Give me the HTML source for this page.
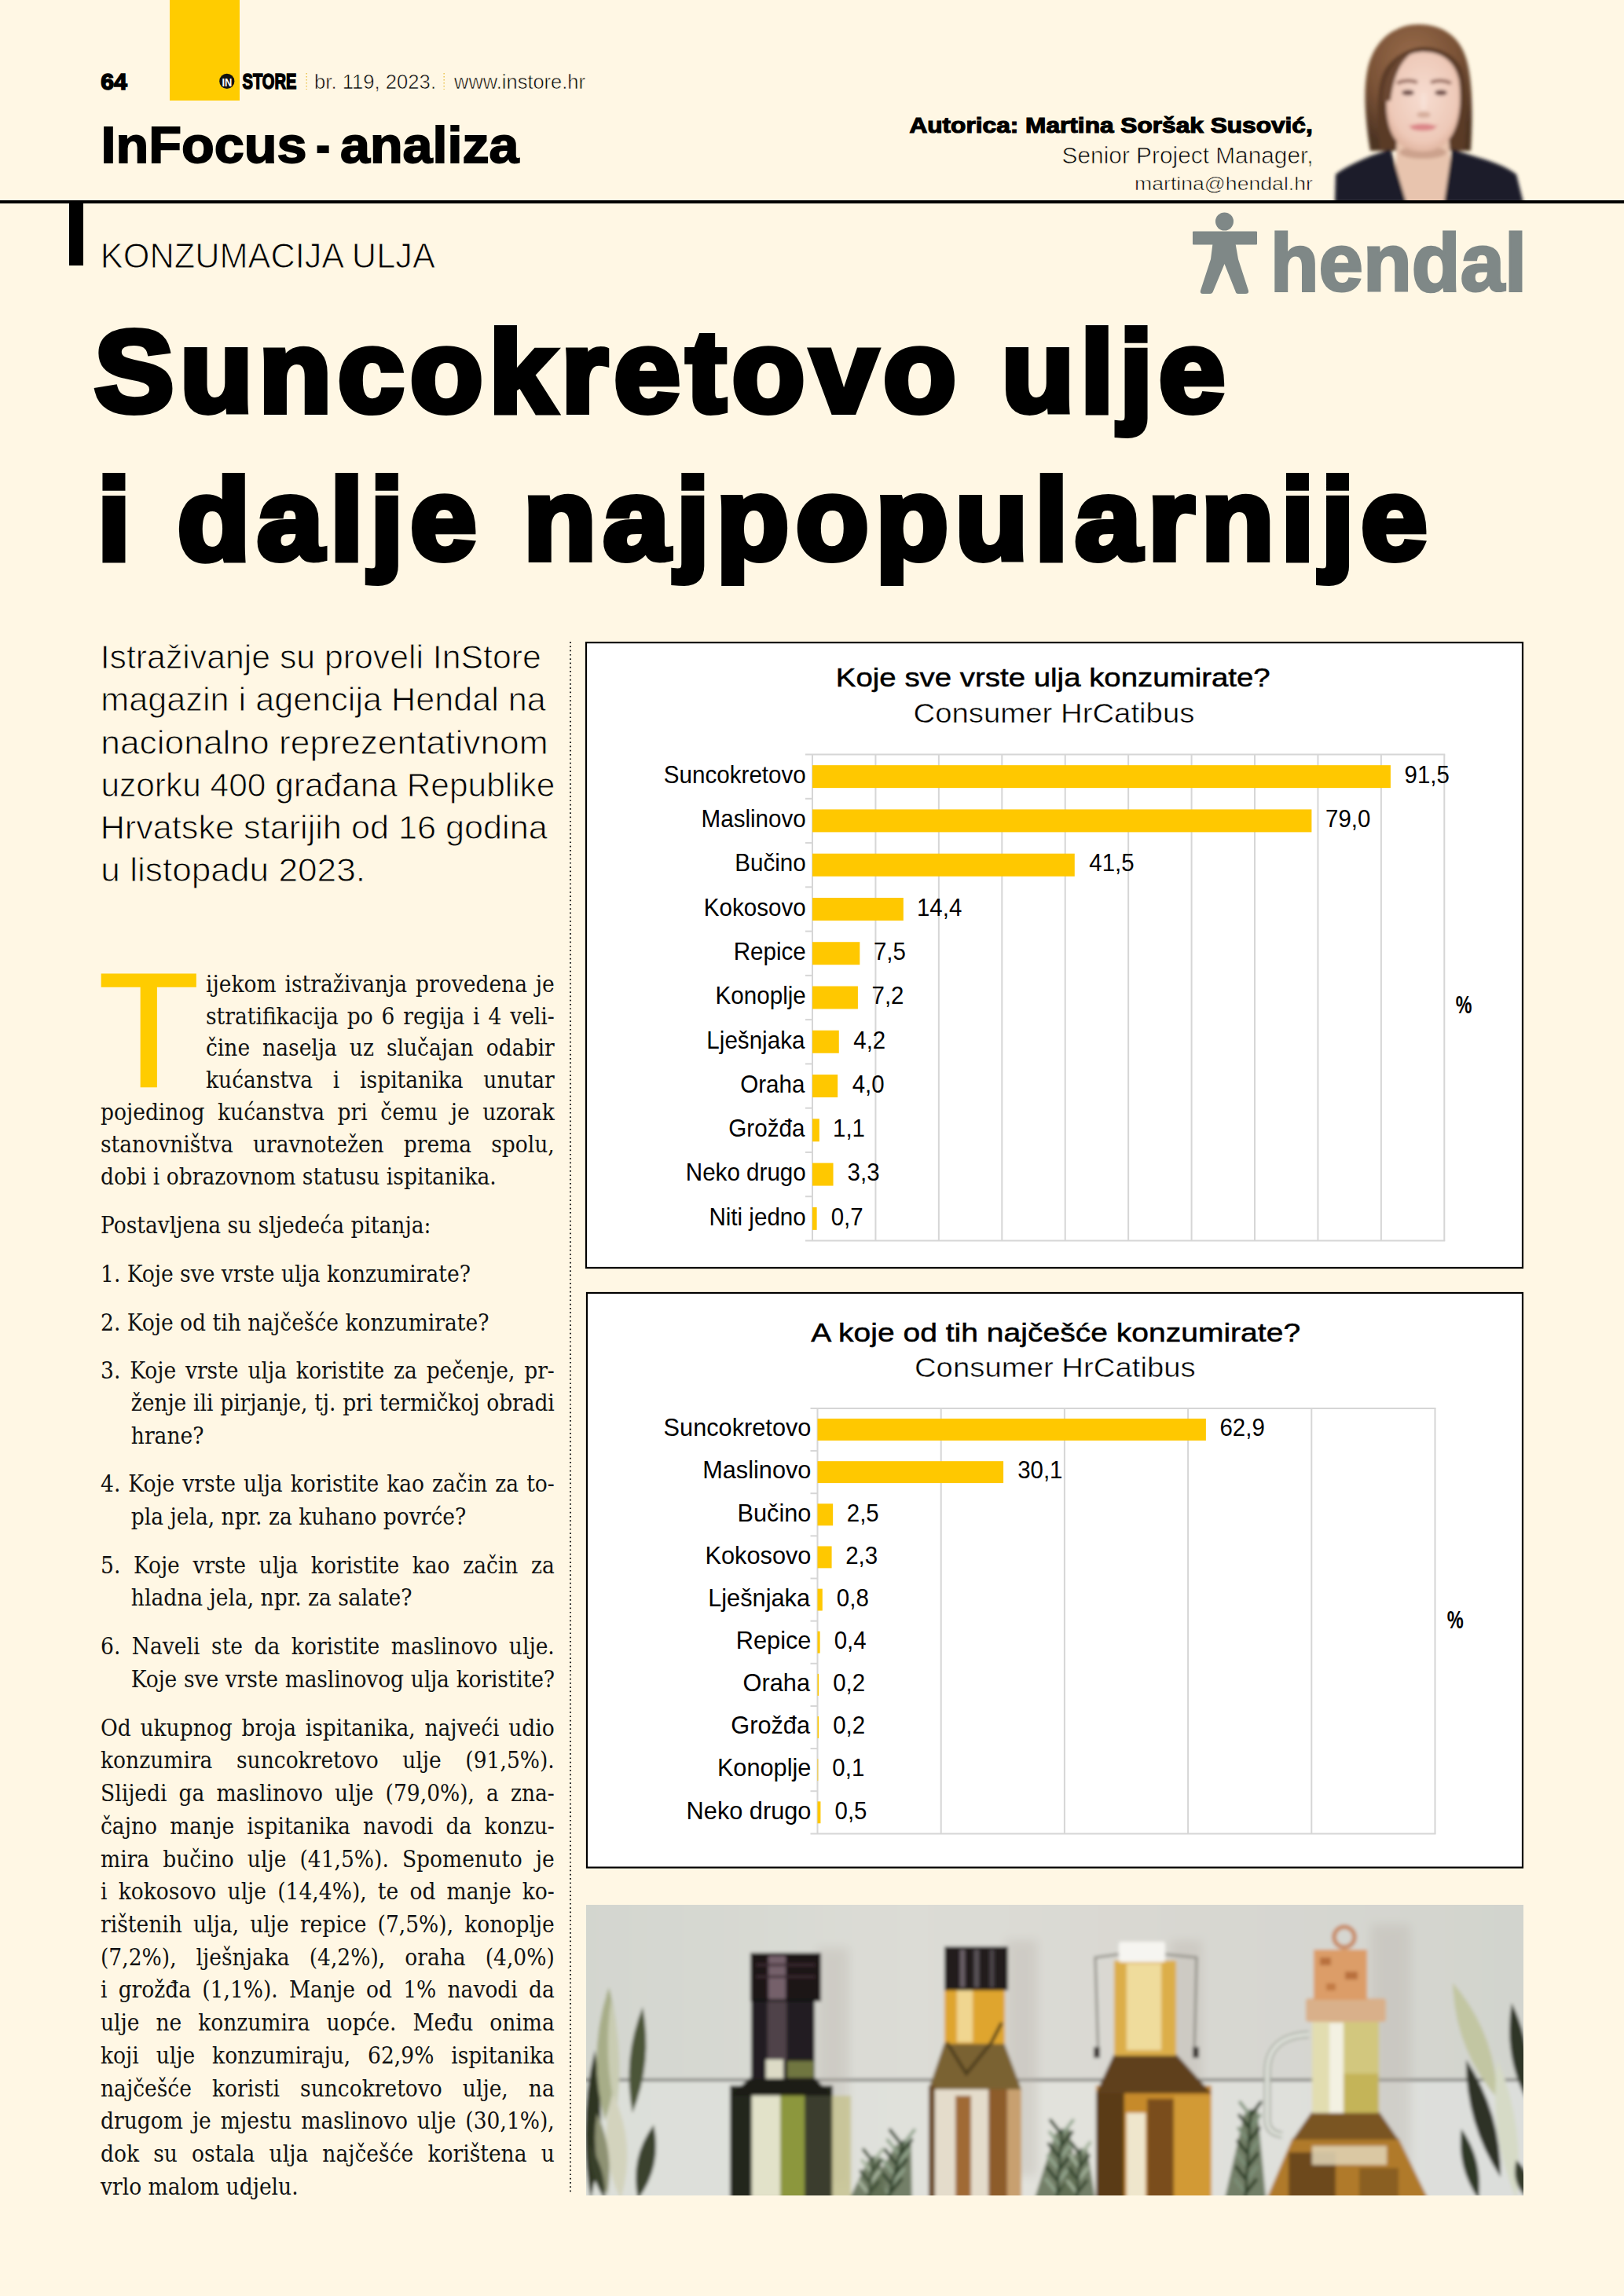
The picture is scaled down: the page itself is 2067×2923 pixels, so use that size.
<!DOCTYPE html>
<html lang="hr"><head><meta charset="utf-8"><title>Suncokretovo ulje i dalje najpopularnije</title>
<style>
html,body{margin:0;padding:0;background:#fff7e4;}
body{width:2067px;height:2923px;position:relative;overflow:hidden;}
#pg{position:absolute;left:0;top:0;}
.bl{position:absolute;height:40px;font-family:"DejaVu Serif Condensed", "DejaVu Serif", serif;font-stretch:condensed;font-size:29.5px;line-height:40px;color:#111;white-space:nowrap;}
.bl.j{text-align:justify;text-align-last:justify;}
</style></head>
<body>
<svg id="pg" width="2067" height="2923" viewBox="0 0 2067 2923">
<defs><filter id="ptb" x="-10%" y="-10%" width="120%" height="120%"><feGaussianBlur stdDeviation="2.2"/></filter><clipPath id="ptc"><rect x="1690" y="0" width="260" height="255"/></clipPath><radialGradient id="hairg" cx="0.45" cy="0.3" r="0.7"><stop offset="0" stop-color="#9b6e4d"/><stop offset="0.6" stop-color="#7a5236"/><stop offset="1" stop-color="#4e3424"/></radialGradient><radialGradient id="faceg" cx="0.5" cy="0.45" r="0.6"><stop offset="0" stop-color="#f6dcd0"/><stop offset="0.75" stop-color="#eec9b8"/><stop offset="1" stop-color="#dcae98"/></radialGradient></defs>
<g clip-path="url(#ptc)"><g filter="url(#ptb)">
<path d="M1744 192 C1737 150 1735 112 1741 86 C1751 46 1779 31 1806 31 C1835 31 1862 46 1869 86 C1875 116 1874 160 1872 192 Z" fill="url(#hairg)"/>
<path d="M1756 190 C1752 140 1752 100 1766 84 C1780 66 1800 60 1812 60 C1830 60 1850 68 1860 86 C1868 104 1868 150 1864 190 Z" fill="#5a3a26"/>
<path d="M1778 176 L1844 176 L1850 258 L1774 258 Z" fill="#e8c4ae"/>
<ellipse cx="1811" cy="194" rx="30" ry="8" fill="#c49a84" opacity="0.8"/>
<path d="M1699 258 L1700 222 Q1712 212 1746 198 L1770 190 L1790 258 Z" fill="#1b1d29"/>
<path d="M1939 258 L1930 222 Q1915 210 1880 200 L1848 190 L1838 258 Z" fill="#1b1d29"/>
<path d="M1767 102 C1769 80 1790 66 1812 66 C1835 66 1852 78 1857 102 C1861 132 1857 166 1841 181 C1831 190 1821 193 1811 193 C1800 193 1789 190 1779 181 C1764 166 1762 132 1767 102 Z" fill="url(#faceg)"/>
<path d="M1760 130 C1760 100 1770 78 1796 68 C1782 80 1774 96 1770 128 Z" fill="#6a4630"/>
<path d="M1778 106 Q1791 100 1804 105" stroke="#9a7064" stroke-width="4.5" fill="none"/>
<path d="M1821 105 Q1834 100 1847 106" stroke="#9a7064" stroke-width="4.5" fill="none"/>
<ellipse cx="1792" cy="118" rx="8" ry="3.5" fill="#6e4c46"/>
<ellipse cx="1834" cy="118" rx="8" ry="3.5" fill="#6e4c46"/>
<ellipse cx="1812" cy="146" rx="9" ry="4" fill="#c99c8a" opacity="0.7"/>
<ellipse cx="1812" cy="130" rx="4" ry="12" fill="#f8e4da" opacity="0.6"/>
<path d="M1792 159 Q1811 172 1831 159 Q1811 164 1792 159 Z" fill="#cf7478"/>
<ellipse cx="1811" cy="162" rx="16" ry="4.5" fill="#dc8588"/>
</g></g>
<g fill="#7f8887">
<circle cx="1558.5" cy="282" r="11.5"/>
<rect x="1518" y="294.5" width="82" height="17" rx="1"/>
<path d="M1543.5 310 L1572.5 310 L1576 330 L1589 370 Q1590 374 1585 374 L1576 374 Q1573 374 1572.5 371 L1558.5 336 L1544 371 Q1543 374 1540 374 L1531 374 Q1527 374 1528 370 L1541 330 Z"/>
</g>
<defs><clipPath id="phc"><rect x="746" y="2425" width="1193" height="370"/></clipPath><filter id="phb" x="-2%" y="-2%" width="104%" height="104%"><feGaussianBlur stdDeviation="2.0"/></filter><filter id="phb2" x="-20%" y="-20%" width="140%" height="140%"><feGaussianBlur stdDeviation="6"/></filter><linearGradient id="wallg" x1="0" y1="0" x2="1" y2="0"><stop offset="0" stop-color="#d3d6cf"/><stop offset="0.35" stop-color="#dcdcd6"/><stop offset="0.6" stop-color="#d9d8d2"/><stop offset="1" stop-color="#d2d4ce"/></linearGradient><linearGradient id="wall2" x1="0" y1="0" x2="1" y2="0"><stop offset="0" stop-color="#dcdfd9"/><stop offset="0.5" stop-color="#e2e2dc"/><stop offset="1" stop-color="#dcdedb"/></linearGradient></defs>
<g clip-path="url(#phc)"><g filter="url(#phb)">
<rect x="740" y="2420" width="1205" height="232" fill="url(#wallg)"/>
<rect x="740" y="2649" width="1205" height="150" fill="url(#wall2)"/>
<rect x="740" y="2646.5" width="1205" height="3" fill="#6b6b66"/>
<rect x="1040" y="2480" width="40" height="300" fill="#b9b2aa" opacity="0.35" filter="url(#phb2)"/>
<rect x="1280" y="2470" width="40" height="300" fill="#b9b2aa" opacity="0.35" filter="url(#phb2)"/>
<rect x="1490" y="2470" width="40" height="300" fill="#b9b2aa" opacity="0.35" filter="url(#phb2)"/>
<rect x="1745" y="2450" width="50" height="320" fill="#b9b2aa" opacity="0.35" filter="url(#phb2)"/>
<path d="M752.0 2800.0Q774.5 2705.5 757.0 2610.0Q734.5 2704.5 752.0 2800.0Z" fill="#2f3624" opacity="1.0"/>
<path d="M770.0 2700.0Q798.5 2615.8 775.0 2530.0Q746.5 2614.2 770.0 2700.0Z" fill="#a7ad88" opacity="1.0"/>
<path d="M784.0 2690.0Q795.0 2616.9 778.0 2545.0Q767.0 2618.1 784.0 2690.0Z" fill="#c9ccb2" opacity="1.0"/>
<path d="M805.0 2690.0Q831.4 2624.4 818.0 2555.0Q791.6 2620.6 805.0 2690.0Z" fill="#4c5538" opacity="1.0"/>
<path d="M790.0 2800.0Q810.9 2730.6 780.0 2665.0Q759.1 2734.4 790.0 2800.0Z" fill="#d3d3bd" opacity="1.0"/>
<path d="M773.0 2795.0Q782.4 2740.5 760.0 2690.0Q750.6 2744.5 773.0 2795.0Z" fill="#8e9273" opacity="1.0"/>
<path d="M812.0 2800.0Q843.5 2757.0 832.0 2705.0Q800.5 2748.0 812.0 2800.0Z" fill="#3b432e" opacity="1.0"/>
<path d="M750.0 2730.0Q748.5 2768.3 770.0 2800.0Q771.5 2761.7 750.0 2730.0Z" fill="#39412c" opacity="1.0"/>
<rect x="929" y="2655" width="131" height="145" fill="#22261a"/>
<path d="M955 2645 L1037 2645 L1059 2668 L929 2668 Z" fill="#1c1d17"/>
<rect x="957" y="2668" width="36" height="130" fill="#e2e2c9"/>
<rect x="993" y="2668" width="31" height="130" fill="#8c973c"/>
<rect x="1024" y="2668" width="34" height="130" fill="#3a3d2f"/>
<rect x="1059" y="2668" width="24" height="130" fill="#c5c28d" opacity="0.8"/>
<rect x="956" y="2545" width="81" height="102" fill="#221c24"/>
<rect x="977" y="2548" width="24" height="75" fill="#4f4248"/>
<rect x="975" y="2622" width="22" height="24" fill="#dddbc6"/>
<rect x="1002" y="2624" width="34" height="21" fill="#6f7640"/>
<rect x="955" y="2486" width="90" height="62" fill="#1f1719"/>
<rect x="978" y="2490" width="22" height="56" fill="#75616a"/><rect x="962" y="2500" width="76" height="3" fill="#3a2c30"/><rect x="962" y="2515" width="76" height="3" fill="#3a2c30"/>
<rect x="955" y="2545" width="82" height="3" fill="#100c0c"/>
<path d="M1099.2 2800 L1140.2 2731 L1159.8 2725 L1160.8 2800 Z" fill="#5f6d52" opacity="0.85"/>
<line x1="1131.7" y1="2793.8" x2="1116.3" y2="2774.2" stroke="#8fa28a" stroke-width="4" stroke-linecap="round"/>
<line x1="1131.7" y1="2793.8" x2="1147.1" y2="2774.2" stroke="#2f4129" stroke-width="4" stroke-linecap="round"/>
<line x1="1135.0" y1="2781.2" x2="1119.6" y2="2761.7" stroke="#2f4129" stroke-width="4" stroke-linecap="round"/>
<line x1="1135.0" y1="2781.2" x2="1150.4" y2="2761.7" stroke="#8fa28a" stroke-width="4" stroke-linecap="round"/>
<line x1="1138.3" y1="2768.8" x2="1122.9" y2="2749.2" stroke="#8fa28a" stroke-width="4" stroke-linecap="round"/>
<line x1="1138.3" y1="2768.8" x2="1153.7" y2="2749.2" stroke="#2f4129" stroke-width="4" stroke-linecap="round"/>
<line x1="1141.7" y1="2756.2" x2="1126.3" y2="2736.7" stroke="#2f4129" stroke-width="4" stroke-linecap="round"/>
<line x1="1141.7" y1="2756.2" x2="1157.1" y2="2736.7" stroke="#8fa28a" stroke-width="4" stroke-linecap="round"/>
<line x1="1145.0" y1="2743.8" x2="1129.6" y2="2724.2" stroke="#8fa28a" stroke-width="4" stroke-linecap="round"/>
<line x1="1145.0" y1="2743.8" x2="1160.4" y2="2724.2" stroke="#2f4129" stroke-width="4" stroke-linecap="round"/>
<line x1="1148.3" y1="2731.2" x2="1132.9" y2="2711.7" stroke="#2f4129" stroke-width="4" stroke-linecap="round"/>
<line x1="1148.3" y1="2731.2" x2="1163.7" y2="2711.7" stroke="#8fa28a" stroke-width="4" stroke-linecap="round"/>
<line x1="1130" y1="2800" x2="1150" y2="2725" stroke="#2f4129" stroke-width="3"/>
<path d="M1080.8 2800 L1104.3 2751 L1119.7 2745 L1129.2 2800 Z" fill="#5f6d52" opacity="0.85"/>
<line x1="1105.9" y1="2793.1" x2="1093.8" y2="2777.7" stroke="#a7b59f" stroke-width="4" stroke-linecap="round"/>
<line x1="1105.9" y1="2793.1" x2="1118.0" y2="2777.7" stroke="#3d4e35" stroke-width="4" stroke-linecap="round"/>
<line x1="1107.6" y1="2779.4" x2="1095.5" y2="2764.0" stroke="#3d4e35" stroke-width="4" stroke-linecap="round"/>
<line x1="1107.6" y1="2779.4" x2="1119.7" y2="2764.0" stroke="#a7b59f" stroke-width="4" stroke-linecap="round"/>
<line x1="1109.4" y1="2765.6" x2="1097.3" y2="2750.2" stroke="#a7b59f" stroke-width="4" stroke-linecap="round"/>
<line x1="1109.4" y1="2765.6" x2="1121.5" y2="2750.2" stroke="#3d4e35" stroke-width="4" stroke-linecap="round"/>
<line x1="1111.1" y1="2751.9" x2="1099.0" y2="2736.5" stroke="#3d4e35" stroke-width="4" stroke-linecap="round"/>
<line x1="1111.1" y1="2751.9" x2="1123.2" y2="2736.5" stroke="#a7b59f" stroke-width="4" stroke-linecap="round"/>
<line x1="1105" y1="2800" x2="1112" y2="2745" stroke="#3d4e35" stroke-width="3"/>
<rect x="1182" y="2655" width="118" height="145" fill="#e4dccb"/>
<path d="M1203 2598 L1277 2598 L1300 2660 L1182 2660 Z" fill="#7a6230"/>
<rect x="1182" y="2655" width="8" height="145" fill="#6b4a22"/>
<rect x="1216" y="2668" width="20" height="130" fill="#a06a34"/>
<rect x="1258" y="2660" width="24" height="140" fill="#8d5c2c"/>
<rect x="1282" y="2660" width="18" height="140" fill="#c8a070"/>
<rect x="1202" y="2532" width="77" height="70" fill="#dfa52e"/>
<rect x="1218" y="2534" width="20" height="66" fill="#f0d690"/>
<path d="M1205 2600 L1230 2640 L1262 2600 L1275 2575" stroke="#4a3a1e" stroke-width="4" fill="none"/>
<rect x="1202" y="2478" width="81" height="56" fill="#211a1e"/>
<rect x="1222" y="2482" width="6" height="48" fill="#6a6066"/>
<rect x="1240" y="2482" width="6" height="48" fill="#5a5258"/>
<rect x="1260" y="2482" width="5" height="48" fill="#4d464c"/>
<path d="M1316.4 2800 L1342.9 2716 L1361.1 2710 L1373.6 2800 Z" fill="#5f6d52" opacity="0.85"/>
<line x1="1345.6" y1="2792.5" x2="1331.3" y2="2774.3" stroke="#93a68e" stroke-width="4" stroke-linecap="round"/>
<line x1="1345.6" y1="2792.5" x2="1359.9" y2="2774.3" stroke="#2f4129" stroke-width="4" stroke-linecap="round"/>
<line x1="1346.8" y1="2777.5" x2="1332.5" y2="2759.3" stroke="#2f4129" stroke-width="4" stroke-linecap="round"/>
<line x1="1346.8" y1="2777.5" x2="1361.0" y2="2759.3" stroke="#93a68e" stroke-width="4" stroke-linecap="round"/>
<line x1="1347.9" y1="2762.5" x2="1333.6" y2="2744.3" stroke="#93a68e" stroke-width="4" stroke-linecap="round"/>
<line x1="1347.9" y1="2762.5" x2="1362.2" y2="2744.3" stroke="#2f4129" stroke-width="4" stroke-linecap="round"/>
<line x1="1349.1" y1="2747.5" x2="1334.8" y2="2729.3" stroke="#2f4129" stroke-width="4" stroke-linecap="round"/>
<line x1="1349.1" y1="2747.5" x2="1363.4" y2="2729.3" stroke="#93a68e" stroke-width="4" stroke-linecap="round"/>
<line x1="1350.2" y1="2732.5" x2="1336.0" y2="2714.3" stroke="#93a68e" stroke-width="4" stroke-linecap="round"/>
<line x1="1350.2" y1="2732.5" x2="1364.5" y2="2714.3" stroke="#2f4129" stroke-width="4" stroke-linecap="round"/>
<line x1="1351.4" y1="2717.5" x2="1337.1" y2="2699.3" stroke="#2f4129" stroke-width="4" stroke-linecap="round"/>
<line x1="1351.4" y1="2717.5" x2="1365.7" y2="2699.3" stroke="#93a68e" stroke-width="4" stroke-linecap="round"/>
<line x1="1345" y1="2800" x2="1352" y2="2710" stroke="#2f4129" stroke-width="3"/>
<path d="M1345.8 2800 L1368.3 2741 L1383.7 2735 L1394.2 2800 Z" fill="#5f6d52" opacity="0.85"/>
<line x1="1370.8" y1="2791.9" x2="1358.7" y2="2776.5" stroke="#a1b199" stroke-width="4" stroke-linecap="round"/>
<line x1="1370.8" y1="2791.9" x2="1382.8" y2="2776.5" stroke="#34452d" stroke-width="4" stroke-linecap="round"/>
<line x1="1372.2" y1="2775.6" x2="1360.2" y2="2760.2" stroke="#34452d" stroke-width="4" stroke-linecap="round"/>
<line x1="1372.2" y1="2775.6" x2="1384.3" y2="2760.2" stroke="#a1b199" stroke-width="4" stroke-linecap="round"/>
<line x1="1373.8" y1="2759.4" x2="1361.7" y2="2744.0" stroke="#a1b199" stroke-width="4" stroke-linecap="round"/>
<line x1="1373.8" y1="2759.4" x2="1385.8" y2="2744.0" stroke="#34452d" stroke-width="4" stroke-linecap="round"/>
<line x1="1375.2" y1="2743.1" x2="1363.2" y2="2727.7" stroke="#34452d" stroke-width="4" stroke-linecap="round"/>
<line x1="1375.2" y1="2743.1" x2="1387.3" y2="2727.7" stroke="#a1b199" stroke-width="4" stroke-linecap="round"/>
<line x1="1370" y1="2800" x2="1376" y2="2735" stroke="#34452d" stroke-width="3"/>
<rect x="1395" y="2655" width="147" height="145" fill="#c68a2a"/>
<path d="M1418 2615 L1497 2615 L1542 2665 L1395 2665 Z" fill="#5e3f1a"/>
<rect x="1395" y="2665" width="36" height="135" fill="#5a3a18"/>
<rect x="1434" y="2690" width="24" height="110" fill="#efe6cc"/>
<rect x="1460" y="2672" width="34" height="128" fill="#7a4e1e"/>
<rect x="1494" y="2668" width="48" height="132" fill="#d29a34"/>
<rect x="1418" y="2496" width="79" height="121" fill="#dcae48"/>
<rect x="1434" y="2500" width="44" height="110" fill="#efdc9c"/>
<rect x="1424" y="2472" width="59" height="26" rx="3" fill="#f6f5f1"/>
<path d="M1398 2620 L1394 2492 L1424 2488 M1520 2620 L1523 2492 L1483 2488" stroke="#8e8c84" stroke-width="3" fill="none"/>
<rect x="1392" y="2606" width="8" height="14" fill="#3a3530"/>
<rect x="1518" y="2606" width="8" height="14" fill="#3a3530"/>
<path d="M1558.6 2800 L1583.6 2691 L1600.4 2685 L1611.4 2800 Z" fill="#5f6d52" opacity="0.85"/>
<line x1="1585.5" y1="2791.8" x2="1572.3" y2="2775.0" stroke="#7d9078" stroke-width="4" stroke-linecap="round"/>
<line x1="1585.5" y1="2791.8" x2="1598.7" y2="2775.0" stroke="#2a3a24" stroke-width="4" stroke-linecap="round"/>
<line x1="1586.5" y1="2775.4" x2="1573.3" y2="2758.6" stroke="#2a3a24" stroke-width="4" stroke-linecap="round"/>
<line x1="1586.5" y1="2775.4" x2="1599.7" y2="2758.6" stroke="#7d9078" stroke-width="4" stroke-linecap="round"/>
<line x1="1587.5" y1="2758.9" x2="1574.3" y2="2742.1" stroke="#7d9078" stroke-width="4" stroke-linecap="round"/>
<line x1="1587.5" y1="2758.9" x2="1600.7" y2="2742.1" stroke="#2a3a24" stroke-width="4" stroke-linecap="round"/>
<line x1="1588.5" y1="2742.5" x2="1575.3" y2="2725.7" stroke="#2a3a24" stroke-width="4" stroke-linecap="round"/>
<line x1="1588.5" y1="2742.5" x2="1601.7" y2="2725.7" stroke="#7d9078" stroke-width="4" stroke-linecap="round"/>
<line x1="1589.5" y1="2726.1" x2="1576.3" y2="2709.3" stroke="#7d9078" stroke-width="4" stroke-linecap="round"/>
<line x1="1589.5" y1="2726.1" x2="1602.7" y2="2709.3" stroke="#2a3a24" stroke-width="4" stroke-linecap="round"/>
<line x1="1590.5" y1="2709.6" x2="1577.3" y2="2692.8" stroke="#2a3a24" stroke-width="4" stroke-linecap="round"/>
<line x1="1590.5" y1="2709.6" x2="1603.7" y2="2692.8" stroke="#7d9078" stroke-width="4" stroke-linecap="round"/>
<line x1="1591.5" y1="2693.2" x2="1578.3" y2="2676.4" stroke="#7d9078" stroke-width="4" stroke-linecap="round"/>
<line x1="1591.5" y1="2693.2" x2="1604.7" y2="2676.4" stroke="#2a3a24" stroke-width="4" stroke-linecap="round"/>
<line x1="1585" y1="2800" x2="1592" y2="2685" stroke="#2a3a24" stroke-width="3"/>
<path d="M1612 2800 L1645 2722 L1780 2722 L1818 2800 Z" fill="#b07a2a"/>
<path d="M1670 2688 L1755 2688 L1780 2724 L1645 2724 Z" fill="#7a5520"/>
<rect x="1640" y="2740" width="60" height="60" fill="#6d4a1b"/>
<rect x="1670" y="2732" width="95" height="24" fill="#e2d6b8" opacity="0.85"/>
<rect x="1730" y="2760" width="50" height="40" fill="#8a5e22"/>
<rect x="1670" y="2572" width="85" height="118" fill="#d2c77e"/>
<rect x="1670" y="2640" width="85" height="50" fill="#c4b458"/>
<rect x="1670" y="2572" width="22" height="118" fill="#e2ddb0"/>
<rect x="1692" y="2575" width="18" height="115" fill="#f3f1e2"/>
<path d="M1666 2590 Q1612 2592 1613 2640 L1613 2700 Q1614 2716 1632 2718" stroke="#a9ada3" stroke-width="9" fill="none"/>
<path d="M1666 2590 Q1612 2592 1613 2640 L1613 2700 Q1614 2716 1632 2718" stroke="#e6e9e2" stroke-width="4" fill="none"/>
<rect x="1662" y="2544" width="102" height="30" rx="4" fill="#d9b08a"/>
<rect x="1672" y="2482" width="68" height="64" fill="#dc9d68"/>
<rect x="1680" y="2492" width="14" height="10" fill="#b8703e"/><rect x="1712" y="2510" width="16" height="10" fill="#b8703e"/><rect x="1688" y="2525" width="12" height="9" fill="#c27a44"/>
<circle cx="1711" cy="2466" r="13" fill="none" stroke="#c98f6c" stroke-width="6"/>
<path d="M1849.0 2524.0Q1851.4 2608.1 1906.0 2672.0Q1903.6 2587.9 1849.0 2524.0Z" fill="#c2c6a2" opacity="1.0"/>
<path d="M1866.0 2622.0Q1865.0 2703.8 1910.0 2772.0Q1911.0 2690.2 1866.0 2622.0Z" fill="#2d3325" opacity="1.0"/>
<path d="M1924.0 2550.0Q1913.2 2613.9 1942.0 2672.0Q1952.8 2608.1 1924.0 2550.0Z" fill="#2f3626" opacity="1.0"/>
<path d="M1906.0 2622.0Q1894.2 2714.2 1930.0 2800.0Q1941.8 2707.8 1906.0 2622.0Z" fill="#d6dac6" opacity="1.0"/>
<path d="M1860.0 2710.0Q1853.5 2759.3 1882.0 2800.0Q1888.5 2750.7 1860.0 2710.0Z" fill="#2f3725" opacity="1.0"/>
<path d="M1930.0 2750.0Q1922.2 2779.6 1945.0 2800.0Q1952.8 2770.4 1930.0 2750.0Z" fill="#343b2a" opacity="1.0"/>
</g></g>
<rect x="216" y="0" width="89" height="128" fill="#ffcc00"/>
<text x="128.15" y="113.80" font-family='"Liberation Sans", Arial, sans-serif' font-size="30" font-weight="700" fill="#000" stroke="#000" stroke-width="1.6" stroke-linejoin="miter" stroke-miterlimit="2.5" textLength="33.65" lengthAdjust="spacingAndGlyphs">64</text>
<circle cx="288.8" cy="103.4" r="9.6" fill="#111"/>
<text x="282.40" y="110.00" font-family='"Liberation Sans", Arial, sans-serif' font-size="15" font-weight="700" fill="#fff" textLength="12.85" lengthAdjust="spacingAndGlyphs">IN</text>
<text x="308.49" y="113.30" font-family='"Liberation Sans", Arial, sans-serif' font-size="28.5" font-weight="700" fill="#000" stroke="#000" stroke-width="1.6" stroke-linejoin="miter" stroke-miterlimit="2.5" textLength="68.84" lengthAdjust="spacingAndGlyphs">STORE</text>
<line x1="390.2" y1="93" x2="390.2" y2="114" stroke="#ecc75a" stroke-width="1.6" stroke-dasharray="1.6 2.4"/>
<line x1="565.2" y1="93" x2="565.2" y2="114" stroke="#ecc75a" stroke-width="1.6" stroke-dasharray="1.6 2.4"/>
<text x="400.10" y="113.10" font-family='"Liberation Sans", Arial, sans-serif' font-size="26.5" font-weight="400" fill="#000" textLength="154.92" lengthAdjust="spacingAndGlyphs" stroke="#fff7e4" stroke-width="0.6">br. 119, 2023.</text>
<text x="578.10" y="113.10" font-family='"Liberation Sans", Arial, sans-serif' font-size="26.5" font-weight="400" fill="#000" textLength="166.83" lengthAdjust="spacingAndGlyphs" stroke="#fff7e4" stroke-width="0.6">www.instore.hr</text>
<text x="128.63" y="207.10" font-family='"Liberation Sans", Arial, sans-serif' font-size="65" font-weight="700" fill="#000" stroke="#000" stroke-width="1.8" stroke-linejoin="miter" stroke-miterlimit="2.5" textLength="261.84" lengthAdjust="spacingAndGlyphs">InFocus</text>
<text x="402.13" y="207.10" font-family='"Liberation Sans", Arial, sans-serif' font-size="65" font-weight="700" fill="#000" stroke="#000" stroke-width="1.8" stroke-linejoin="miter" stroke-miterlimit="2.5" textLength="17.80" lengthAdjust="spacingAndGlyphs">-</text>
<text x="433.03" y="207.10" font-family='"Liberation Sans", Arial, sans-serif' font-size="65" font-weight="700" fill="#000" stroke="#000" stroke-width="1.8" stroke-linejoin="miter" stroke-miterlimit="2.5" textLength="227.43" lengthAdjust="spacingAndGlyphs">analiza</text>
<text x="1157.41" y="168.60" font-family='"Liberation Sans", Arial, sans-serif' font-size="28.5" font-weight="700" fill="#000" stroke="#000" stroke-width="1.2" stroke-linejoin="miter" stroke-miterlimit="2.5" textLength="513.36" lengthAdjust="spacingAndGlyphs">Autorica: Martina Soršak Susović,</text>
<text x="1351.62" y="207.50" font-family='"Liberation Sans", Arial, sans-serif' font-size="29.3" font-weight="400" fill="#000" textLength="319.96" lengthAdjust="spacingAndGlyphs" stroke="#fff7e4" stroke-width="0.7">Senior Project Manager,</text>
<text x="1444.04" y="242.40" font-family='"Liberation Sans", Arial, sans-serif' font-size="24.3" font-weight="400" fill="#000" textLength="226.89" lengthAdjust="spacingAndGlyphs" stroke="#fff7e4" stroke-width="0.6">martina@hendal.hr</text>
<rect x="0" y="255" width="2067" height="4" fill="#000"/>
<rect x="88" y="255" width="18" height="83" fill="#000"/>
<text x="127.84" y="341.20" font-family='"Liberation Sans", Arial, sans-serif' font-size="44.5" font-weight="400" fill="#000" textLength="425.95" lengthAdjust="spacingAndGlyphs" stroke="#fff7e4" stroke-width="1.0">KONZUMACIJA ULJA</text>
<text x="0" y="0" transform="translate(120.25 524.00) scale(1.03 1)" font-family='"Liberation Sans", Arial, sans-serif' font-size="147" font-weight="700" letter-spacing="7.68" fill="#000" stroke="#000" stroke-width="8" stroke-linejoin="miter" stroke-miterlimit="2.5">Suncokretovo ulje</text>
<text x="0" y="0" transform="translate(123.96 711.80) scale(1.03 1)" font-family='"Liberation Sans", Arial, sans-serif' font-size="147" font-weight="700" letter-spacing="8.63" fill="#000" stroke="#000" stroke-width="8" stroke-linejoin="miter" stroke-miterlimit="2.5">i dalje najpopularnije</text>
<text x="127.71" y="851.10" font-family='"Liberation Sans", Arial, sans-serif' font-size="42.5" font-weight="400" fill="#000" textLength="561.08" lengthAdjust="spacingAndGlyphs" stroke="#fff7e4" stroke-width="0.9">Istraživanje su proveli InStore</text>
<text x="128.35" y="905.30" font-family='"Liberation Sans", Arial, sans-serif' font-size="42.5" font-weight="400" fill="#000" textLength="566.52" lengthAdjust="spacingAndGlyphs" stroke="#fff7e4" stroke-width="0.9">magazin i agencija Hendal na</text>
<text x="128.28" y="959.50" font-family='"Liberation Sans", Arial, sans-serif' font-size="42.5" font-weight="400" fill="#000" textLength="569.47" lengthAdjust="spacingAndGlyphs" stroke="#fff7e4" stroke-width="0.9">nacionalno reprezentativnom</text>
<text x="128.40" y="1013.70" font-family='"Liberation Sans", Arial, sans-serif' font-size="42.5" font-weight="400" fill="#000" textLength="578.07" lengthAdjust="spacingAndGlyphs" stroke="#fff7e4" stroke-width="0.9">uzorku 400 građana Republike</text>
<text x="127.68" y="1067.90" font-family='"Liberation Sans", Arial, sans-serif' font-size="42.5" font-weight="400" fill="#000" textLength="569.00" lengthAdjust="spacingAndGlyphs" stroke="#fff7e4" stroke-width="0.9">Hrvatske starijih od 16 godina</text>
<text x="128.29" y="1122.10" font-family='"Liberation Sans", Arial, sans-serif' font-size="42.5" font-weight="400" fill="#000" textLength="336.76" lengthAdjust="spacingAndGlyphs" stroke="#fff7e4" stroke-width="0.9">u listopadu 2023.</text>
<line x1="726" y1="817" x2="726" y2="2794" stroke="#222" stroke-width="1.9" stroke-dasharray="1.7 3.6"/>
<text x="124.84" y="1383.25" font-family='"Liberation Sans", Arial, sans-serif' font-size="208" font-weight="400" fill="#ffcc00" stroke="#ffcc00" stroke-width="1.5" stroke-linejoin="miter" stroke-miterlimit="2.5" textLength="129.22" lengthAdjust="spacingAndGlyphs">T</text>
<rect x="746" y="818" width="1192" height="796" fill="#fff" stroke="#000" stroke-width="2.2"/>
<text x="1063.85" y="873.60" font-family='"Liberation Sans", Arial, sans-serif' font-size="33.5" font-weight="400" fill="#000" stroke="#000" stroke-width="0.5" stroke-linejoin="miter" stroke-miterlimit="2.5" textLength="552.86" lengthAdjust="spacingAndGlyphs">Koje sve vrste ulja konzumirate?</text>
<text x="1162.45" y="919.80" font-family='"Liberation Sans", Arial, sans-serif' font-size="34.5" font-weight="400" fill="#000" textLength="358.00" lengthAdjust="spacingAndGlyphs" stroke="#fff" stroke-width="0.5">Consumer HrCatibus</text>
<line x1="1114.43" y1="960.5" x2="1114.43" y2="1579.5" stroke="#d6d6d6" stroke-width="2"/>
<line x1="1194.86" y1="960.5" x2="1194.86" y2="1579.5" stroke="#d6d6d6" stroke-width="2"/>
<line x1="1275.29" y1="960.5" x2="1275.29" y2="1579.5" stroke="#d6d6d6" stroke-width="2"/>
<line x1="1355.72" y1="960.5" x2="1355.72" y2="1579.5" stroke="#d6d6d6" stroke-width="2"/>
<line x1="1436.15" y1="960.5" x2="1436.15" y2="1579.5" stroke="#d6d6d6" stroke-width="2"/>
<line x1="1516.58" y1="960.5" x2="1516.58" y2="1579.5" stroke="#d6d6d6" stroke-width="2"/>
<line x1="1597.01" y1="960.5" x2="1597.01" y2="1579.5" stroke="#d6d6d6" stroke-width="2"/>
<line x1="1677.44" y1="960.5" x2="1677.44" y2="1579.5" stroke="#d6d6d6" stroke-width="2"/>
<line x1="1757.87" y1="960.5" x2="1757.87" y2="1579.5" stroke="#d6d6d6" stroke-width="2"/>
<line x1="1838.30" y1="960.5" x2="1838.30" y2="1579.5" stroke="#d6d6d6" stroke-width="2"/>
<line x1="1025.0" y1="960.5" x2="1839.3" y2="960.5" stroke="#d6d6d6" stroke-width="2"/>
<line x1="1025.0" y1="1579.5" x2="1839.3" y2="1579.5" stroke="#d6d6d6" stroke-width="2"/>
<line x1="1025.0" y1="1016.77" x2="1034.0" y2="1016.77" stroke="#d6d6d6" stroke-width="2"/>
<line x1="1025.0" y1="1073.05" x2="1034.0" y2="1073.05" stroke="#d6d6d6" stroke-width="2"/>
<line x1="1025.0" y1="1129.32" x2="1034.0" y2="1129.32" stroke="#d6d6d6" stroke-width="2"/>
<line x1="1025.0" y1="1185.59" x2="1034.0" y2="1185.59" stroke="#d6d6d6" stroke-width="2"/>
<line x1="1025.0" y1="1241.86" x2="1034.0" y2="1241.86" stroke="#d6d6d6" stroke-width="2"/>
<line x1="1025.0" y1="1298.14" x2="1034.0" y2="1298.14" stroke="#d6d6d6" stroke-width="2"/>
<line x1="1025.0" y1="1354.41" x2="1034.0" y2="1354.41" stroke="#d6d6d6" stroke-width="2"/>
<line x1="1025.0" y1="1410.68" x2="1034.0" y2="1410.68" stroke="#d6d6d6" stroke-width="2"/>
<line x1="1025.0" y1="1466.95" x2="1034.0" y2="1466.95" stroke="#d6d6d6" stroke-width="2"/>
<line x1="1025.0" y1="1523.23" x2="1034.0" y2="1523.23" stroke="#d6d6d6" stroke-width="2"/>
<line x1="1034.0" y1="960.5" x2="1034.0" y2="1579.5" stroke="#d6d6d6" stroke-width="2"/>
<rect x="1034.00" y="974.15" width="735.93" height="28.98" fill="#ffc800"/>
<text x="844.80" y="996.94" font-family='"Liberation Sans", Arial, sans-serif' font-size="32" font-weight="400" fill="#000" textLength="181.00" lengthAdjust="spacingAndGlyphs">Suncokretovo</text>
<text x="1787.55" y="996.94" font-family='"Liberation Sans", Arial, sans-serif' font-size="32" font-weight="400" fill="#000" textLength="57.30" lengthAdjust="spacingAndGlyphs">91,5</text>
<rect x="1034.00" y="1030.42" width="635.40" height="28.98" fill="#ffc800"/>
<text x="892.54" y="1053.21" font-family='"Liberation Sans", Arial, sans-serif' font-size="32" font-weight="400" fill="#000" textLength="133.26" lengthAdjust="spacingAndGlyphs">Maslinovo</text>
<text x="1687.02" y="1053.21" font-family='"Liberation Sans", Arial, sans-serif' font-size="32" font-weight="400" fill="#000" textLength="57.30" lengthAdjust="spacingAndGlyphs">79,0</text>
<rect x="1034.00" y="1086.69" width="333.78" height="28.98" fill="#ffc800"/>
<text x="935.29" y="1109.48" font-family='"Liberation Sans", Arial, sans-serif' font-size="32" font-weight="400" fill="#000" textLength="90.51" lengthAdjust="spacingAndGlyphs">Bučino</text>
<text x="1386.32" y="1109.48" font-family='"Liberation Sans", Arial, sans-serif' font-size="32" font-weight="400" fill="#000" textLength="57.30" lengthAdjust="spacingAndGlyphs">41,5</text>
<rect x="1034.00" y="1142.96" width="115.82" height="28.98" fill="#ffc800"/>
<text x="895.81" y="1165.75" font-family='"Liberation Sans", Arial, sans-serif' font-size="32" font-weight="400" fill="#000" textLength="129.99" lengthAdjust="spacingAndGlyphs">Kokosovo</text>
<text x="1166.98" y="1165.75" font-family='"Liberation Sans", Arial, sans-serif' font-size="32" font-weight="400" fill="#000" textLength="57.30" lengthAdjust="spacingAndGlyphs">14,4</text>
<rect x="1034.00" y="1199.24" width="60.32" height="28.98" fill="#ffc800"/>
<text x="933.66" y="1222.03" font-family='"Liberation Sans", Arial, sans-serif' font-size="32" font-weight="400" fill="#000" textLength="92.14" lengthAdjust="spacingAndGlyphs">Repice</text>
<text x="1111.94" y="1222.03" font-family='"Liberation Sans", Arial, sans-serif' font-size="32" font-weight="400" fill="#000" textLength="40.93" lengthAdjust="spacingAndGlyphs">7,5</text>
<rect x="1034.00" y="1255.51" width="57.91" height="28.98" fill="#ffc800"/>
<text x="910.59" y="1278.30" font-family='"Liberation Sans", Arial, sans-serif' font-size="32" font-weight="400" fill="#000" textLength="115.21" lengthAdjust="spacingAndGlyphs">Konoplje</text>
<text x="1109.53" y="1278.30" font-family='"Liberation Sans", Arial, sans-serif' font-size="32" font-weight="400" fill="#000" textLength="40.93" lengthAdjust="spacingAndGlyphs">7,2</text>
<rect x="1034.00" y="1311.78" width="33.78" height="28.98" fill="#ffc800"/>
<text x="899.35" y="1334.57" font-family='"Liberation Sans", Arial, sans-serif' font-size="32" font-weight="400" fill="#000" textLength="125.06" lengthAdjust="spacingAndGlyphs">Lješnjaka</text>
<text x="1086.32" y="1334.57" font-family='"Liberation Sans", Arial, sans-serif' font-size="32" font-weight="400" fill="#000" textLength="40.93" lengthAdjust="spacingAndGlyphs">4,2</text>
<rect x="1034.00" y="1368.06" width="32.17" height="28.98" fill="#ffc800"/>
<text x="942.14" y="1390.85" font-family='"Liberation Sans", Arial, sans-serif' font-size="32" font-weight="400" fill="#000" textLength="82.27" lengthAdjust="spacingAndGlyphs">Oraha</text>
<text x="1084.71" y="1390.85" font-family='"Liberation Sans", Arial, sans-serif' font-size="32" font-weight="400" fill="#000" textLength="40.93" lengthAdjust="spacingAndGlyphs">4,0</text>
<rect x="1034.00" y="1424.33" width="8.85" height="28.98" fill="#ffc800"/>
<text x="927.34" y="1447.12" font-family='"Liberation Sans", Arial, sans-serif' font-size="32" font-weight="400" fill="#000" textLength="97.07" lengthAdjust="spacingAndGlyphs">Grožđa</text>
<text x="1060.01" y="1447.12" font-family='"Liberation Sans", Arial, sans-serif' font-size="32" font-weight="400" fill="#000" textLength="40.93" lengthAdjust="spacingAndGlyphs">1,1</text>
<rect x="1034.00" y="1480.60" width="26.54" height="28.98" fill="#ffc800"/>
<text x="872.77" y="1503.39" font-family='"Liberation Sans", Arial, sans-serif' font-size="32" font-weight="400" fill="#000" textLength="153.03" lengthAdjust="spacingAndGlyphs">Neko drugo</text>
<text x="1078.62" y="1503.39" font-family='"Liberation Sans", Arial, sans-serif' font-size="32" font-weight="400" fill="#000" textLength="40.93" lengthAdjust="spacingAndGlyphs">3,3</text>
<rect x="1034.00" y="1536.87" width="5.63" height="28.98" fill="#ffc800"/>
<text x="902.40" y="1559.66" font-family='"Liberation Sans", Arial, sans-serif' font-size="32" font-weight="400" fill="#000" textLength="123.40" lengthAdjust="spacingAndGlyphs">Niti jedno</text>
<text x="1057.71" y="1559.66" font-family='"Liberation Sans", Arial, sans-serif' font-size="32" font-weight="400" fill="#000" textLength="40.93" lengthAdjust="spacingAndGlyphs">0,7</text>
<text x="1852.64" y="1289.80" font-family='"Liberation Sans", Arial, sans-serif' font-size="32" font-weight="700" fill="#000" textLength="20.69" lengthAdjust="spacingAndGlyphs">%</text>
<rect x="747" y="1646" width="1191" height="731.5" fill="#fff" stroke="#000" stroke-width="2.2"/>
<text x="1032.25" y="1708.00" font-family='"Liberation Sans", Arial, sans-serif' font-size="33.5" font-weight="400" fill="#000" stroke="#000" stroke-width="0.5" stroke-linejoin="miter" stroke-miterlimit="2.5" textLength="622.87" lengthAdjust="spacingAndGlyphs">A koje od tih najčešće konzumirate?</text>
<text x="1163.95" y="1753.20" font-family='"Liberation Sans", Arial, sans-serif' font-size="34.5" font-weight="400" fill="#000" textLength="357.79" lengthAdjust="spacingAndGlyphs" stroke="#fff" stroke-width="0.5">Consumer HrCatibus</text>
<line x1="1197.70" y1="1792.9" x2="1197.70" y2="2334.4" stroke="#d6d6d6" stroke-width="2"/>
<line x1="1354.90" y1="1792.9" x2="1354.90" y2="2334.4" stroke="#d6d6d6" stroke-width="2"/>
<line x1="1512.10" y1="1792.9" x2="1512.10" y2="2334.4" stroke="#d6d6d6" stroke-width="2"/>
<line x1="1669.30" y1="1792.9" x2="1669.30" y2="2334.4" stroke="#d6d6d6" stroke-width="2"/>
<line x1="1826.50" y1="1792.9" x2="1826.50" y2="2334.4" stroke="#d6d6d6" stroke-width="2"/>
<line x1="1031.5" y1="1792.9" x2="1827.5" y2="1792.9" stroke="#d6d6d6" stroke-width="2"/>
<line x1="1031.5" y1="2334.4" x2="1827.5" y2="2334.4" stroke="#d6d6d6" stroke-width="2"/>
<line x1="1031.5" y1="1847.05" x2="1040.5" y2="1847.05" stroke="#d6d6d6" stroke-width="2"/>
<line x1="1031.5" y1="1901.20" x2="1040.5" y2="1901.20" stroke="#d6d6d6" stroke-width="2"/>
<line x1="1031.5" y1="1955.35" x2="1040.5" y2="1955.35" stroke="#d6d6d6" stroke-width="2"/>
<line x1="1031.5" y1="2009.50" x2="1040.5" y2="2009.50" stroke="#d6d6d6" stroke-width="2"/>
<line x1="1031.5" y1="2063.65" x2="1040.5" y2="2063.65" stroke="#d6d6d6" stroke-width="2"/>
<line x1="1031.5" y1="2117.80" x2="1040.5" y2="2117.80" stroke="#d6d6d6" stroke-width="2"/>
<line x1="1031.5" y1="2171.95" x2="1040.5" y2="2171.95" stroke="#d6d6d6" stroke-width="2"/>
<line x1="1031.5" y1="2226.10" x2="1040.5" y2="2226.10" stroke="#d6d6d6" stroke-width="2"/>
<line x1="1031.5" y1="2280.25" x2="1040.5" y2="2280.25" stroke="#d6d6d6" stroke-width="2"/>
<line x1="1040.5" y1="1792.9" x2="1040.5" y2="2334.4" stroke="#d6d6d6" stroke-width="2"/>
<rect x="1040.50" y="1806.03" width="494.39" height="27.89" fill="#ffc800"/>
<text x="844.60" y="1828.28" font-family='"Liberation Sans", Arial, sans-serif' font-size="32" font-weight="400" fill="#000" textLength="187.84" lengthAdjust="spacingAndGlyphs">Suncokretovo</text>
<text x="1552.51" y="1828.28" font-family='"Liberation Sans", Arial, sans-serif' font-size="32" font-weight="400" fill="#000" textLength="57.30" lengthAdjust="spacingAndGlyphs">62,9</text>
<rect x="1040.50" y="1860.18" width="236.59" height="27.89" fill="#ffc800"/>
<text x="894.14" y="1882.42" font-family='"Liberation Sans", Arial, sans-serif' font-size="32" font-weight="400" fill="#000" textLength="138.30" lengthAdjust="spacingAndGlyphs">Maslinovo</text>
<text x="1295.17" y="1882.42" font-family='"Liberation Sans", Arial, sans-serif' font-size="32" font-weight="400" fill="#000" textLength="57.30" lengthAdjust="spacingAndGlyphs">30,1</text>
<rect x="1040.50" y="1914.33" width="19.65" height="27.89" fill="#ffc800"/>
<text x="938.52" y="1936.58" font-family='"Liberation Sans", Arial, sans-serif' font-size="32" font-weight="400" fill="#000" textLength="93.93" lengthAdjust="spacingAndGlyphs">Bučino</text>
<text x="1077.77" y="1936.58" font-family='"Liberation Sans", Arial, sans-serif' font-size="32" font-weight="400" fill="#000" textLength="40.93" lengthAdjust="spacingAndGlyphs">2,5</text>
<rect x="1040.50" y="1968.48" width="18.08" height="27.89" fill="#ffc800"/>
<text x="897.54" y="1990.73" font-family='"Liberation Sans", Arial, sans-serif' font-size="32" font-weight="400" fill="#000" textLength="134.91" lengthAdjust="spacingAndGlyphs">Kokosovo</text>
<text x="1076.20" y="1990.73" font-family='"Liberation Sans", Arial, sans-serif' font-size="32" font-weight="400" fill="#000" textLength="40.93" lengthAdjust="spacingAndGlyphs">2,3</text>
<rect x="1040.50" y="2022.63" width="6.29" height="27.89" fill="#ffc800"/>
<text x="901.21" y="2044.88" font-family='"Liberation Sans", Arial, sans-serif' font-size="32" font-weight="400" fill="#000" textLength="129.79" lengthAdjust="spacingAndGlyphs">Lješnjaka</text>
<text x="1064.87" y="2044.88" font-family='"Liberation Sans", Arial, sans-serif' font-size="32" font-weight="400" fill="#000" textLength="40.93" lengthAdjust="spacingAndGlyphs">0,8</text>
<rect x="1040.50" y="2076.78" width="3.14" height="27.89" fill="#ffc800"/>
<text x="936.82" y="2099.03" font-family='"Liberation Sans", Arial, sans-serif' font-size="32" font-weight="400" fill="#000" textLength="95.62" lengthAdjust="spacingAndGlyphs">Repice</text>
<text x="1061.72" y="2099.03" font-family='"Liberation Sans", Arial, sans-serif' font-size="32" font-weight="400" fill="#000" textLength="40.93" lengthAdjust="spacingAndGlyphs">0,4</text>
<rect x="1040.50" y="2130.93" width="1.57" height="27.89" fill="#ffc800"/>
<text x="945.62" y="2153.18" font-family='"Liberation Sans", Arial, sans-serif' font-size="32" font-weight="400" fill="#000" textLength="85.38" lengthAdjust="spacingAndGlyphs">Oraha</text>
<text x="1060.15" y="2153.18" font-family='"Liberation Sans", Arial, sans-serif' font-size="32" font-weight="400" fill="#000" textLength="40.93" lengthAdjust="spacingAndGlyphs">0,2</text>
<rect x="1040.50" y="2185.08" width="1.57" height="27.89" fill="#ffc800"/>
<text x="930.27" y="2207.33" font-family='"Liberation Sans", Arial, sans-serif' font-size="32" font-weight="400" fill="#000" textLength="100.74" lengthAdjust="spacingAndGlyphs">Grožđa</text>
<text x="1060.15" y="2207.33" font-family='"Liberation Sans", Arial, sans-serif' font-size="32" font-weight="400" fill="#000" textLength="40.93" lengthAdjust="spacingAndGlyphs">0,2</text>
<rect x="1040.50" y="2239.23" width="0.79" height="27.89" fill="#ffc800"/>
<text x="912.88" y="2261.48" font-family='"Liberation Sans", Arial, sans-serif' font-size="32" font-weight="400" fill="#000" textLength="119.56" lengthAdjust="spacingAndGlyphs">Konoplje</text>
<text x="1059.37" y="2261.48" font-family='"Liberation Sans", Arial, sans-serif' font-size="32" font-weight="400" fill="#000" textLength="40.93" lengthAdjust="spacingAndGlyphs">0,1</text>
<rect x="1040.50" y="2293.38" width="3.93" height="27.89" fill="#ffc800"/>
<text x="873.62" y="2315.62" font-family='"Liberation Sans", Arial, sans-serif' font-size="32" font-weight="400" fill="#000" textLength="158.82" lengthAdjust="spacingAndGlyphs">Neko drugo</text>
<text x="1062.51" y="2315.62" font-family='"Liberation Sans", Arial, sans-serif' font-size="32" font-weight="400" fill="#000" textLength="40.93" lengthAdjust="spacingAndGlyphs">0,5</text>
<text x="1841.83" y="2073.40" font-family='"Liberation Sans", Arial, sans-serif' font-size="32" font-weight="700" fill="#000" textLength="21.00" lengthAdjust="spacingAndGlyphs">%</text>
<text x="1616.67" y="370.20" font-family='"Liberation Sans", Arial, sans-serif' font-size="103" font-weight="700" fill="#7f8887" stroke="#7f8887" stroke-width="3" stroke-linejoin="miter" stroke-miterlimit="2.5" textLength="326.52" lengthAdjust="spacingAndGlyphs">hendal</text>
</svg>
<div class="bl j" style="top:1232.5px;left:262.0px;width:443.8px;">ijekom istraživanja provedena je</div>
<div class="bl j" style="top:1273.5px;left:262.0px;width:443.8px;">stratifikacija po 6 regija i 4 veli-</div>
<div class="bl j" style="top:1314.4px;left:262.0px;width:443.8px;">čine naselja uz slučajan odabir</div>
<div class="bl j" style="top:1355.3px;left:262.0px;width:443.8px;">kućanstva i ispitanika unutar</div>
<div class="bl j" style="top:1396.3px;left:128.0px;width:577.8px;">pojedinog kućanstva pri čemu je uzorak</div>
<div class="bl j" style="top:1437.2px;left:128.0px;width:577.8px;">stanovništva uravnotežen prema spolu,</div>
<div class="bl" style="top:1478.2px;left:128.0px;width:577.8px;">dobi i obrazovnom statusu ispitanika.</div>
<div class="bl" style="top:1540.2px;left:128.0px;width:577.8px;">Postavljena su sljedeća pitanja:</div>
<div class="bl" style="top:1602.3px;left:128.0px;width:577.8px;">1. Koje sve vrste ulja konzumirate?</div>
<div class="bl" style="top:1663.7px;left:128.0px;width:577.8px;">2. Koje od tih najčešće konzumirate?</div>
<div class="bl j" style="top:1725.0px;left:128.0px;width:577.8px;">3. Koje vrste ulja koristite za pečenje, pr-</div>
<div class="bl j" style="top:1766.4px;left:166.8px;width:539.0px;letter-spacing:-0.059px;">ženje ili pirjanje, tj. pri termičkoj obradi</div>
<div class="bl" style="top:1807.8px;left:166.8px;width:539.0px;">hrane?</div>
<div class="bl j" style="top:1869.2px;left:128.0px;width:577.8px;">4. Koje vrste ulja koristite kao začin za to-</div>
<div class="bl" style="top:1910.6px;left:166.8px;width:539.0px;">pla jela, npr. za kuhano povrće?</div>
<div class="bl j" style="top:1972.6px;left:128.0px;width:577.8px;">5. Koje vrste ulja koristite kao začin za</div>
<div class="bl" style="top:2014.0px;left:166.8px;width:539.0px;">hladna jela, npr. za salate?</div>
<div class="bl j" style="top:2076.1px;left:128.0px;width:577.8px;">6. Naveli ste da koristite maslinovo ulje.</div>
<div class="bl j" style="top:2117.5px;left:166.8px;width:539.0px;letter-spacing:-0.142px;">Koje sve vrste maslinovog ulja koristite?</div>
<div class="bl j" style="top:2179.6px;left:128.0px;width:577.8px;">Od ukupnog broja ispitanika, najveći udio</div>
<div class="bl j" style="top:2221.3px;left:128.0px;width:577.8px;">konzumira suncokretovo ulje (91,5%).</div>
<div class="bl j" style="top:2263.1px;left:128.0px;width:577.8px;">Slijedi ga maslinovo ulje (79,0%), a zna-</div>
<div class="bl j" style="top:2304.8px;left:128.0px;width:577.8px;">čajno manje ispitanika navodi da konzu-</div>
<div class="bl j" style="top:2346.5px;left:128.0px;width:577.8px;">mira bučino ulje (41,5%). Spomenuto je</div>
<div class="bl j" style="top:2388.2px;left:128.0px;width:577.8px;">i kokosovo ulje (14,4%), te od manje ko-</div>
<div class="bl j" style="top:2430.0px;left:128.0px;width:577.8px;">rištenih ulja, ulje repice (7,5%), konoplje</div>
<div class="bl j" style="top:2471.7px;left:128.0px;width:577.8px;">(7,2%), lješnjaka (4,2%), oraha (4,0%)</div>
<div class="bl j" style="top:2513.4px;left:128.0px;width:577.8px;">i grožđa (1,1%). Manje od 1% navodi da</div>
<div class="bl j" style="top:2555.2px;left:128.0px;width:577.8px;">ulje ne konzumira uopće. Među onima</div>
<div class="bl j" style="top:2596.9px;left:128.0px;width:577.8px;">koji ulje konzumiraju, 62,9% ispitanika</div>
<div class="bl j" style="top:2638.6px;left:128.0px;width:577.8px;">najčešće koristi suncokretovo ulje, na</div>
<div class="bl j" style="top:2680.4px;left:128.0px;width:577.8px;">drugom je mjestu maslinovo ulje (30,1%),</div>
<div class="bl j" style="top:2722.1px;left:128.0px;width:577.8px;">dok su ostala ulja najčešće korištena u</div>
<div class="bl" style="top:2763.8px;left:128.0px;width:577.8px;">vrlo malom udjelu.</div>
</body></html>
